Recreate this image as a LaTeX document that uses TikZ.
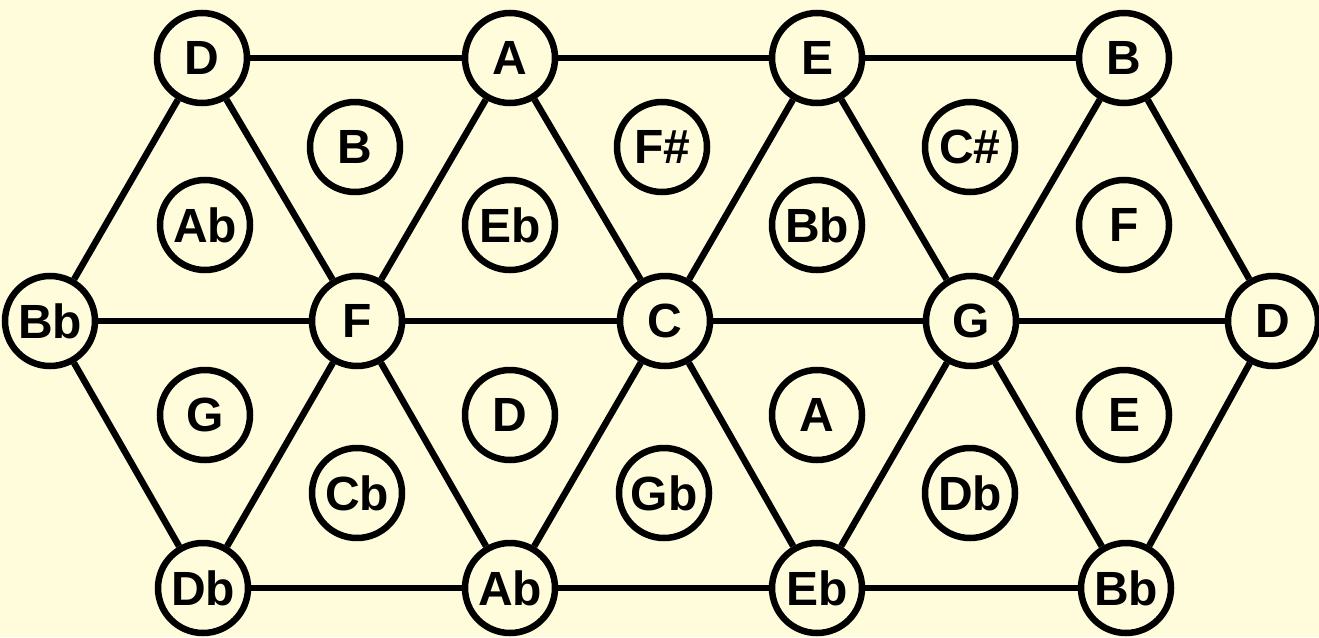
\documentclass[tikz,border=0pt]{standalone}
\usepackage{fontspec}
\setmainfont{Liberation Sans}
\definecolor{bg}{HTML}{FFFCDC}
\begin{document}
\begin{tikzpicture}[x=1pt,y=-1pt,
  note/.style={circle,draw=black,line width=6.5pt,fill=bg,minimum size=90pt,inner sep=0pt,
    font=\fontsize{48}{48}\selectfont\bfseries},
  edge/.style={line width=6.5pt}]
\fill[bg] (0,0) rectangle (1319,637);
\useasboundingbox (0,0) rectangle (1319,637);
% vertices
\node[note] (t1) at (202,58) {D};
\node[note] (t2) at (510,58) {A};
\node[note] (t3) at (817,58) {E};
\node[note] (t4) at (1124,58) {B};
\node[note] (m1) at (50,321) {Bb};
\node[note] (m2) at (357,321) {F};
\node[note] (m3) at (665,321) {C};
\node[note] (m4) at (971,321) {G};
\node[note] (m5) at (1273,321) {D};
\node[note] (b1) at (203,588) {Db};
\node[note] (b2) at (510,588) {Ab};
\node[note] (b3) at (817,588) {Eb};
\node[note] (b4) at (1126,588) {Bb};
% edges
\draw[edge] (t1) -- (t2); \draw[edge] (t2) -- (t3); \draw[edge] (t3) -- (t4);
\draw[edge] (m1) -- (m2); \draw[edge] (m2) -- (m3); \draw[edge] (m3) -- (m4); \draw[edge] (m4) -- (m5);
\draw[edge] (b1) -- (b2); \draw[edge] (b2) -- (b3); \draw[edge] (b3) -- (b4);
\draw[edge] (t1) -- (m1); \draw[edge] (t1) -- (m2);
\draw[edge] (t2) -- (m2); \draw[edge] (t2) -- (m3);
\draw[edge] (t3) -- (m3); \draw[edge] (t3) -- (m4);
\draw[edge] (t4) -- (m4); \draw[edge] (t4) -- (m5);
\draw[edge] (b1) -- (m1); \draw[edge] (b1) -- (m2);
\draw[edge] (b2) -- (m2); \draw[edge] (b2) -- (m3);
\draw[edge] (b3) -- (m3); \draw[edge] (b3) -- (m4);
\draw[edge] (b4) -- (m4); \draw[edge] (b4) -- (m5);
% inner notes
\node[note] (u1) at (355,147) {B};
\node[note] (u2) at (662,147) {F\#};
\node[note] (u3) at (970,147) {C\#};
\node[note] (v1) at (205,225) {Ab};
\node[note] (v2) at (510,225) {Eb};
\node[note] (v3) at (817,225) {Bb};
\node[note] (v4) at (1124,225) {F};
\node[note] (w1) at (205,415) {G};
\node[note] (w2) at (510,415) {D};
\node[note] (w3) at (817,415) {A};
\node[note] (w4) at (1124,415) {E};
\node[note] (x1) at (357,493) {Cb};
\node[note] (x2) at (664,493) {Gb};
\node[note] (x3) at (970,493) {Db};
\end{tikzpicture}
\end{document}
